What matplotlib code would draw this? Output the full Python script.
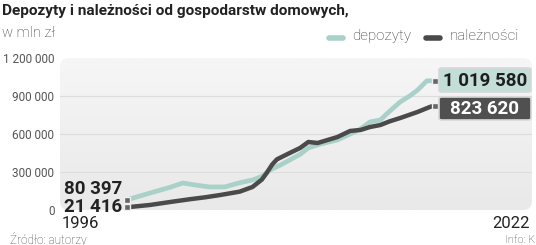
import numpy as np
import matplotlib
matplotlib.use('Agg')
import matplotlib.pyplot as plt
from matplotlib.patches import FancyBboxPatch
from matplotlib.lines import Line2D
from matplotlib.colors import LinearSegmentedColormap

# values (mln zl)
years_dep = [1996.0, 1997.1, 1998.4, 1999.7, 2000.8, 2001.9, 2003.1, 2004.4, 2005.7,
             2006.8, 2007.6, 2008.3, 2009.2, 2010.0, 2010.9, 2011.6, 2012.6, 2014.1,
             2015.2, 2016.1, 2016.9, 2017.8, 2018.6, 2019.5, 2020.4, 2021.0, 2021.8, 2022.5]
deposits = [80397, 110000, 145000, 179000, 213000, 197000, 182000, 182000, 215000,
            237000, 265000, 316000, 355000, 395000, 440000, 490000, 520000, 553000,
            600000, 640000, 695000, 711000, 780000, 853000, 905000, 947000, 1020000, 1019580]

years_loan = [1996.0, 1998.0, 1999.7, 2001.4, 2002.7, 2004.0, 2005.7, 2006.8, 2007.6,
              2008.0, 2008.5, 2008.9, 2010.0, 2010.9, 2011.6, 2012.4, 2014.1, 2015.2,
              2016.1, 2016.9, 2017.8, 2018.6, 2019.5, 2021.0, 2022.1, 2022.5]
loans = [21416, 40000, 63000, 85000, 100000, 118000, 145000, 182000, 240000,
         290000, 360000, 400000, 450000, 490000, 537000, 529000, 576000, 624000,
         632000, 655000, 671000, 700000, 726000, 774000, 815000, 823620]

y_ticks = [0, 300000, 600000, 900000, 1200000]
first_year, last_year = '1996', '2022'

W, H = 536, 245
TEAL = '#a9d1c9'
DARK = '#4a4a4a'
NARROW = ['DejaVu Sans Condensed', 'Roboto']


def fx(px):
    return px / W


def fy(py):
    return 1 - py / H


def fmt(v):
    return f'{v:,}'.replace(',', ' ')


fig = plt.figure(figsize=(W / 100, H / 100), dpi=100)
fig.patch.set_facecolor('white')

# plot panel: pixel box 60..532 x 58..210
left, right, top, bottom = 60, 532, 58, 210
ax = fig.add_axes([fx(left), fy(bottom), (right - left) / W, (bottom - top) / H])

# x scale: 1996 at px 127, last point at px 435
ppy = (435 - 127) / (years_dep[-1] - years_dep[0])
x0 = years_dep[0] - (127 - left) / ppy
x1 = years_dep[-1] + (right - 435) / ppy
ax.set_xlim(x0, x1)
ax.set_ylim(0, 1200000)

# rounded gradient background
cmap = LinearSegmentedColormap.from_list('bg', ['#f6f6f6', '#e9e9e9'])
grad = np.linspace(0, 1, 100).reshape(-1, 1)
im = ax.imshow(grad, cmap=cmap, aspect='auto', extent=[x0, x1, 0, 1200000],
               origin='upper', zorder=0)
aspect = (right - left) / (bottom - top)
panel = FancyBboxPatch((0, 0), 1, 1, boxstyle='round,pad=0,rounding_size=%f' % (9 / (right - left)),
                       mutation_aspect=aspect, transform=ax.transAxes,
                       facecolor='none', edgecolor='none')
ax.add_patch(panel)
im.set_clip_path(panel)

for v in y_ticks[1:-1]:
    ax.axhline(v, color='#dcdcdc', lw=0.8, zorder=1)

ax.plot(years_dep, deposits, color=TEAL, lw=3.4, solid_capstyle='round', zorder=3)
ax.plot(years_loan, loans, color=DARK, lw=3.2, solid_capstyle='round', zorder=4)

# end point markers
for xs, ys in [(years_dep, deposits), (years_loan, loans)]:
    ax.plot([xs[0], xs[-1]], [ys[0], ys[-1]], 's', ms=4, color='#666666',
            mec='#f0f0f0', mew=1, zorder=5)

for s in ax.spines.values():
    s.set_visible(False)
ax.set_xticks([])
ax.set_yticks(y_ticks)
ax.set_yticklabels([fmt(v) for v in y_ticks], fontsize=8.5, color='#555555',
                   family='Roboto')
ax.tick_params(axis='y', length=0, pad=4)
ax.patch.set_alpha(0)

# title and subtitle
fig.text(fx(2), fy(11), 'Depozyty i należności od gospodarstw domowych,', fontsize=11.1,
         fontweight='bold', color='#222222', family=NARROW, va='center')
fig.text(fx(2), fy(33), 'w mln zł', fontsize=10.5, color='#333333', family='Roboto',
         fontweight='light', va='center')

# legend
fig.add_artist(Line2D([fx(329), fx(343)], [fy(38), fy(38)], color=TEAL, lw=4,
                      solid_capstyle='round'))
fig.text(fx(352), fy(36), 'depozyty', fontsize=11, color='#333333', family='Roboto',
         fontweight='light', va='center')
fig.add_artist(Line2D([fx(426), fx(440)], [fy(38), fy(38)], color=DARK, lw=4,
                      solid_capstyle='round'))
fig.text(fx(450), fy(36), 'należności', fontsize=11, color='#333333', family='Roboto',
         fontweight='light', va='center')

# start values
fig.text(fx(122), fy(189), fmt(deposits[0]), fontsize=13.5, fontweight='bold',
         color='#222222', family=NARROW, ha='right', va='center')
fig.text(fx(122), fy(207), fmt(loans[0]), fontsize=13.5, fontweight='bold',
         color='#222222', family=NARROW, ha='right', va='center')

# end value boxes
for (ytop, ybot), val, fc, tc in [((68, 92), deposits[-1], '#c3ddd7', '#1e1e1e'),
                                  ((97, 120), loans[-1], '#505050', 'white')]:
    box = FancyBboxPatch((fx(439), fy(ybot)), (531 - 439) / W, (ybot - ytop) / H,
                         boxstyle='round,pad=0,rounding_size=0.006',
                         transform=fig.transFigure, facecolor=fc,
                         edgecolor='#d8d8d8', lw=1.2, zorder=6)
    fig.add_artist(box)
    fig.text(fx(485), fy((ytop + ybot) / 2 + 0.5), fmt(val), fontsize=13.5,
             fontweight='bold', color=tc, family=NARROW, ha='center', va='center',
             zorder=7)

# year labels and footer
fig.text(fx(62), fy(223), first_year, fontsize=12, color='#222222', family='Roboto',
         va='center')
fig.text(fx(530), fy(223), last_year, fontsize=12, color='#222222', family='Roboto',
         va='center', ha='right')
fig.text(fx(10), fy(239), 'Źródło: autorzy', fontsize=8.5, color='#444444',
         family='Roboto', fontweight='light', va='center')
fig.text(fx(535), fy(240), 'Info: K', fontsize=8, color='#444444',
         family='Roboto', fontweight='light', va='center', ha='right')

fig.savefig('out.png', dpi=100)
